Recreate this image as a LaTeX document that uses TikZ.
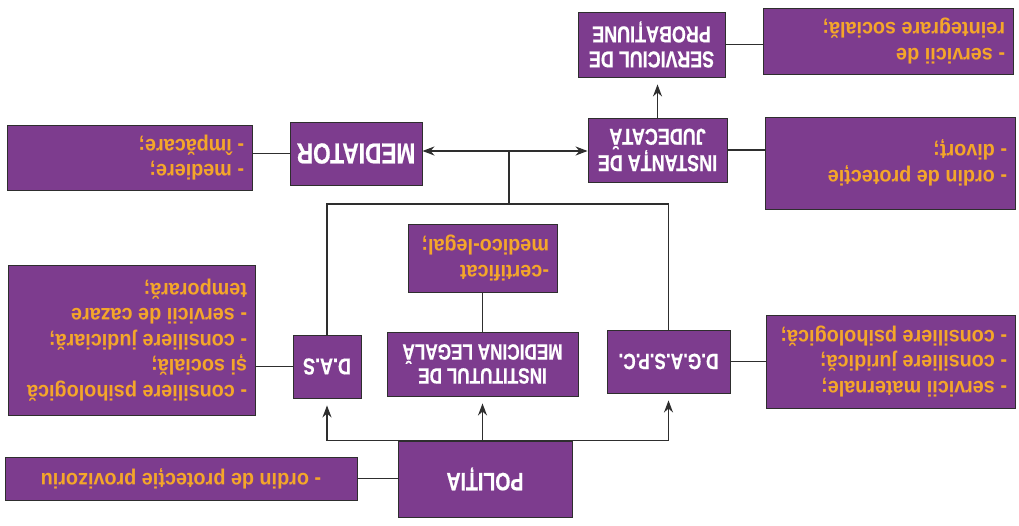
\documentclass[tikz,border=0pt]{standalone}
\usepackage{graphicx}
\usepackage{fontspec}
\setmainfont[FakeStretch=0.82]{Liberation Sans}
\newfontfamily\descfamily[FakeStretch=0.92]{Liberation Sans}
\newfontfamily\titlefamily[FakeStretch=0.78,FakeBold=0.6]{Liberation Sans Bold}
\usetikzlibrary{arrows.meta}
\definecolor{purp}{HTML}{7D3C8E}
\definecolor{gold}{HTML}{F4A62A}
\definecolor{ln}{HTML}{2E2E2E}
\newcommand{\fliptitle}[3]{\rotatebox[origin=c]{180}{\begin{minipage}{#1}\centering\titlefamily\fontsize{#2}{\dimexpr #2pt+2pt\relax}\selectfont\color{white}#3\end{minipage}}}
\newcommand{\flipdesc}[2]{\rotatebox[origin=c]{180}{\begin{minipage}{#1}\raggedright\descfamily\fontsize{21.5}{25.5}\selectfont\bfseries\color{gold}#2\end{minipage}}}
\newcommand{\flipdescc}[2]{\rotatebox[origin=c]{180}{\begin{minipage}{#1}\centering\descfamily\fontsize{21.5}{25.5}\selectfont\bfseries\color{gold}#2\end{minipage}}}
\tikzset{
  box/.style={draw=ln, line width=0.9pt, fill=purp, inner sep=0pt},
  conn/.style={draw=ln, line width=1.3pt},
  arr/.style={conn, -{Stealth[length=12pt,width=9pt]}},
  varr/.style={arr, shorten >=7pt}
}
\begin{document}
\begin{tikzpicture}[x=1pt,y=-1pt]
\useasboundingbox[fill=white] (0,0) rectangle (1019,526);
% nodes
\node[box, minimum width=174pt, minimum height=76pt] (pol) at (485,479) {\fliptitle{160pt}{25}{POLIȚIA}};
\node[box, minimum width=352pt, minimum height=43pt] (prov) at (181,478.5) {\flipdescc{336pt}{- ordin de protecție provizoriu}};
\node[box, minimum width=123pt, minimum height=63pt] (dgaspc) at (668.5,361.5) {\fliptitle{117pt}{22}{D.G.A.S.P.C.}};
\node[box, minimum width=191pt, minimum height=64pt] (iml) at (482.5,364) {\fliptitle{185pt}{22}{INSTITUTUL DE\\MEDICINA LEGALĂ}};
\node[box, minimum width=68pt, minimum height=63pt] (das) at (327,366.5) {\fliptitle{64pt}{23}{D.A.S}};
\node[box, minimum width=149pt, minimum height=68pt] (cert) at (482.5,258) {\flipdesc{133pt}{-certificat\\medico-legal;}};
\node[box, minimum width=247pt, minimum height=150pt] (dasd) at (131.5,340) {\flipdesc{231pt}{- consiliere psihologică\\și socială;\\- consiliere judiciară;\\- servicii de cazare\\temporară;}};
\node[box, minimum width=249pt, minimum height=93pt] (dgd) at (890.5,361.5) {\flipdesc{233pt}{- servicii maternale;\\- consiliere juridică;\\- consiliere psihologică;}};
\node[box, minimum width=132pt, minimum height=63pt] (med) at (356,153.5) {\fliptitle{128pt}{29}{MEDIATOR}};
\node[box, minimum width=245pt, minimum height=65pt] (medd) at (129.5,157.5) {\flipdesc{229pt}{- mediere;\\- împăcare;}};
\node[box, minimum width=139pt, minimum height=64pt] (inst) at (657.5,150) {\fliptitle{135pt}{23}{INSTANȚA DE\\JUDECATĂ}};
\node[box, minimum width=250pt, minimum height=92pt] (instd) at (890,163) {\flipdesc{234pt}{- ordin de protecție\\- divorț;}};
\node[box, minimum width=147pt, minimum height=65pt] (prob) at (651.5,44.5) {\fliptitle{143pt}{23}{SERVICIUL DE\\PROBAȚIUNE}};
\node[box, minimum width=250pt, minimum height=66pt] (probd) at (888,41) {\flipdesc{234pt}{- servicii de\\reintegrare socială;}};
% coordinates
\coordinate (tb) at (509,204);
\coordinate (mb) at (509,151);
% connectors
\draw[conn] (prov.east) -- (prov.east -| pol.west);
\draw[conn] (das.south |- pol.north) -- (dgaspc.south |- pol.north);
\draw[varr] (das.south |- pol.north) -- (das.south);
\draw[varr] (iml.south |- pol.north) -- (iml.south);
\draw[varr] (dgaspc.south |- pol.north) -- (dgaspc.south);
\draw[conn] (iml.north) -- (cert.south);
\draw[conn] (das.west) -- (das.west -| dasd.east);
\draw[conn] (dgaspc.east) -- (dgaspc.east -| dgd.west);
\draw[conn] (das.north) |- (tb) -| (dgaspc.north);
\draw[conn] (tb) -- (mb);
\draw[arr] (mb) -- (mb -| med.east);
\draw[arr] (mb) -- (mb -| inst.west);
\draw[conn] (med.west) -- (med.west -| medd.east);
\draw[conn] (inst.east) -- (inst.east -| instd.west);
\draw[varr] (inst.north) -- (inst.north |- prob.south);
\draw[conn] (prob.east) -- (prob.east -| probd.west);
\end{tikzpicture}
\end{document}
